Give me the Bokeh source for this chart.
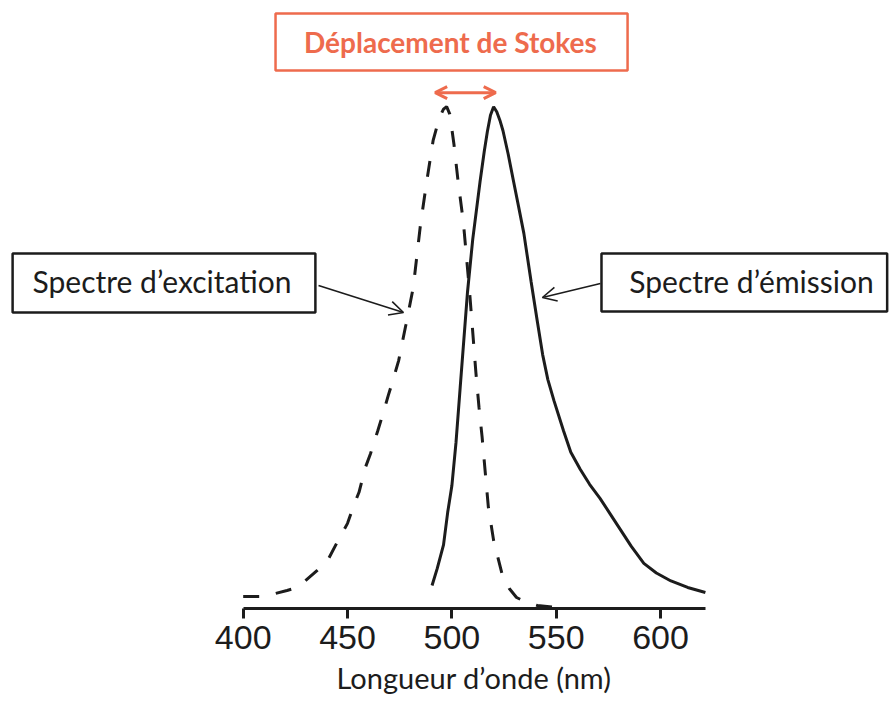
import numpy as np
from bokeh.plotting import figure
from bokeh.models import Range1d, FixedTicker, BoxAnnotation, Label, Arrow, OpenHead, Title
from bokeh.embed import file_html
from bokeh.resources import INLINE

# ---------------- data ----------------
# Excitation spectrum (dashed): wavelength (nm) and relative intensity (%)
ex_wl = [400, 410, 421, 426, 435.5, 440.5, 445.5, 450, 453, 455.5, 458.5, 461,
         464.5, 467, 469.5, 472, 474.5, 478, 481.5, 485, 488, 491, 494, 496,
         497.5, 499, 501, 503, 505.5, 508.5, 511.5, 513, 514.5, 516, 517.5,
         520, 524, 527.5, 531, 536, 541, 548, 555]
ex_int = [2.2, 2.2, 3.4, 4.0, 7.4, 9.4, 13.4, 16.8, 20.4, 23.0, 27.9, 30.7,
          35.3, 38.7, 42.3, 45.7, 49.3, 56.5, 63.9, 76.6, 85.2, 93.2, 97.8, 99.5,
          100.0, 98.5, 92.5, 85.0, 77.0, 63.0, 47.0, 40.0, 34.0, 27.0, 20.0,
          13.4, 6.8, 3.8, 2.0, 1.0, 0.4, 0.1, 0.0]

# Emission spectrum (solid)
em_wl = [490.5, 493, 496, 498, 500, 502, 504, 507.5, 510, 513.5, 515.5, 517,
         518.5, 520, 521.5, 523, 524.5, 527, 529.5, 532, 534.5, 538, 541, 543.5,
         546, 549, 553.5, 557, 561.5, 566, 571, 576, 581, 586, 592, 598, 605,
         613, 621.5]
em_int = [4.4, 7.8, 12.5, 19.0, 24.3, 33.0, 44.0, 63.0, 73.5, 85.0, 91.0, 95.0,
          98.3, 100.0, 99.0, 97.3, 95.2, 90.5, 85.2, 80.0, 74.7, 65.0, 57.0, 50.5,
          45.5, 41.2, 35.3, 31.0, 27.6, 24.6, 21.8, 18.6, 15.4, 12.2, 8.8, 6.9,
          5.3, 4.0, 3.0]

tick_values = [400, 450, 500, 550, 600]
x_label = "Longueur d’onde (nm)"
ex_label = "Spectre d’excitation"
em_label = "Spectre d’émission"
stokes_label = "Déplacement de Stokes"

# ---------------- styling / layout ----------------
INK = "#1c1c1c"
SALMON = "#ee6b4d"
TEXT_FONT = "Lato"

p = figure(width=890, height=706,
           x_range=Range1d(283.7, 710.2), y_range=Range1d(-0.2, 121.2),
           output_backend="svg", toolbar_location=None,
           y_axis_location=None,
           min_border_left=0, min_border_right=0, min_border_top=0,
           min_border_bottom=98)
p.grid.visible = False
p.outline_line_color = None
p.background_fill_color = "white"
p.border_fill_color = "white"

ax = p.xaxis[0]
ax.ticker = FixedTicker(ticks=tick_values)
ax.bounds = (400, 621.5)
ax.axis_line_width = 3
ax.axis_line_color = INK
ax.major_tick_line_width = 3
ax.major_tick_line_color = INK
ax.major_tick_out = 10
ax.major_tick_in = 0
ax.minor_tick_out = 0
ax.minor_tick_in = 0
ax.major_label_text_font = "Liberation Sans"
ax.major_label_text_font_size = "34px"
ax.major_label_text_color = INK
ax.major_label_standoff = 7

# axis title, centred under the axis line (not under the whole canvas)
p.add_layout(Title(text=x_label, align="left", offset=336, standoff=12,
                   text_font=TEXT_FONT, text_font_size="29px",
                   text_font_style="normal", text_color=INK), "below")

# curves
p.line(ex_wl, ex_int, line_width=3, line_color=INK, line_dash="16 17")
p.line(em_wl, em_int, line_width=3, line_color=INK)

# peak positions (used for the Stokes-shift arrow)
ex_peak = ex_wl[int(np.argmax(ex_int))]
em_peak = em_wl[int(np.argmax(em_int))]

# label boxes (data-space positions)
box_specs = [
    dict(left=289.5, right=434.6, top=70.7, bottom=58.9, color=INK),   # excitation
    dict(left=571.7, right=708.6, top=70.7, bottom=59.1, color=INK),   # emission
    dict(left=415.5, right=584.2, top=118.6, bottom=107.2, color=SALMON),  # Stokes
]
for b in box_specs:
    p.add_layout(BoxAnnotation(left=b["left"], right=b["right"], top=b["top"],
                               bottom=b["bottom"], fill_color="white", fill_alpha=1,
                               line_color=b["color"], line_alpha=1, line_width=2.5))

p.add_layout(Label(x=361.1, y=65.1, text=ex_label, text_align="center",
                   text_baseline="middle", text_font=TEXT_FONT,
                   text_font_size="30px", text_color=INK))
p.add_layout(Label(x=643.6, y=65.1, text=em_label, text_align="center",
                   text_baseline="middle", text_font=TEXT_FONT,
                   text_font_size="30px", text_color=INK))
p.add_layout(Label(x=499.3, y=113.0, text=stokes_label, text_align="center",
                   text_baseline="middle", text_font=TEXT_FONT,
                   text_font_size="28px", text_font_style="bold",
                   text_color=SALMON))

# pointer arrows
p.add_layout(Arrow(end=OpenHead(size=14, line_width=1.6, line_color=INK),
                   x_start=436.1, y_start=64.3, x_end=476.8, y_end=58.9,
                   line_width=1.6, line_color=INK))
p.add_layout(Arrow(end=OpenHead(size=14, line_width=1.6, line_color=INK),
                   x_start=571.2, y_start=64.7, x_end=543.4, y_end=61.9,
                   line_width=1.6, line_color=INK))

# Stokes shift double arrow (peak to peak)
p.add_layout(Arrow(start=OpenHead(size=12, line_width=3, line_color=SALMON),
                   end=OpenHead(size=12, line_width=3, line_color=SALMON),
                   x_start=ex_peak - 5.5, y_start=102.8,
                   x_end=em_peak + 1.0, y_end=102.8,
                   line_width=3, line_color=SALMON))

open("out.html", "w").write(file_html(p, INLINE))
